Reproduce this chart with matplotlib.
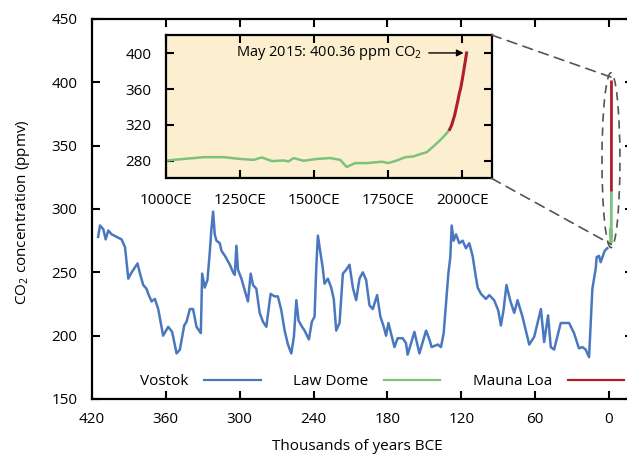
import matplotlib
matplotlib.use("Agg")
import matplotlib.pyplot as plt
from matplotlib.patches import Ellipse, ConnectionPatch

plt.rcParams['font.family'] = ['Open Sans', 'DejaVu Sans']
plt.rcParams['mathtext.fontset'] = 'custom'
plt.rcParams['mathtext.rm'] = 'Open Sans'

# ---------------- data ----------------
vostok_ka = [415, 413.5, 410.8, 408.9, 406.8, 404, 396, 393.2, 390.5, 387.8, 383, 381, 378.4,
             375.7, 374.3, 371.6, 368.9, 366.2, 362.2, 358.1, 354.9, 351.3, 348.6, 345.1, 343.2,
             340.5, 337.9, 335.1, 331.6, 330.5, 328.4, 326.2, 324.3, 323, 321.6, 320.3, 318.9,
             316.2, 314.8, 312, 308, 305.4, 304, 302.7, 301.4, 298.6, 296, 293.3, 291.1, 289.2,
             286.5, 283.8, 281.1, 278.4, 274.9, 271.6, 269, 266.2, 263.5, 260.8, 258.1, 256,
             254, 252.2, 250, 247.3, 243.8, 241.4, 239.2, 237.8, 236.5, 234.3, 232.5, 231.1,
             228.4, 225.7, 223.6, 221.6, 218.9, 216.2, 213.5, 210.8, 208.1, 205.4, 202.7, 200,
             197.3, 194.6, 191.9, 188.4, 185.7, 183, 181.1, 179.2, 174.3, 171.7, 167.6, 164.9,
             163.6, 160.8, 158.1, 154, 148.6, 145.9, 144.1, 139.1, 136.5, 134.3, 132.4, 130.5,
             128.9, 127.8, 126.2, 124.3, 121.6, 118.9, 116.2, 113.5, 110.8, 108.1, 106.7, 104,
             100, 97.3, 93.3, 90, 87.8, 85.7, 83.3, 80.3, 77, 74.3, 70.3, 64.8, 60.8, 55.3,
             52.7, 49.5, 47.3, 44.6, 39.2, 32.4, 28.4, 24.4, 21.6, 18.9, 16.2, 13.5, 10.8, 10,
             8.1, 6.8, 3.5, 1.4]
vostok_ppm = [278, 287, 284, 276, 283, 280, 276, 270, 245, 250, 257, 249, 240,
              237, 233, 227, 229, 221, 200, 207, 203, 186, 189, 208, 211,
              221, 221, 207, 202, 249, 238, 244, 266, 284, 298, 280, 275,
              273, 267, 263, 256, 250, 248, 271, 252, 245, 236, 227, 249, 240,
              237, 218, 211, 207, 233, 231, 231, 220, 204, 193, 186, 199,
              228, 212, 208, 204, 197, 211, 215, 254, 279, 265, 253, 241,
              245, 238, 229, 204, 210, 249, 252, 256, 238, 228, 245, 250,
              244, 224, 221, 232, 215, 207, 200, 210, 191, 198, 198, 194,
              185, 194, 203, 186, 204, 197, 191, 193, 191, 202, 225, 249,
              262, 287, 275, 280, 273, 275, 269, 273, 263, 246, 238, 233,
              229, 232, 228, 220, 208, 220, 240, 228, 218, 228, 215, 193, 199, 221,
              195, 216, 191, 189, 210, 210, 202, 190, 191, 189, 183, 237, 253, 262,
              263, 258, 267, 269]

lawdome_year = [1006, 1028, 1062, 1129, 1196, 1252, 1297, 1325, 1359, 1398, 1415, 1432, 1465,
                1510, 1555, 1589, 1611, 1639, 1679, 1729, 1751, 1780, 1808, 1836, 1858, 1881,
                1903, 1925, 1948, 1958]
lawdome_ppm = [280.3, 281, 282, 284, 284, 282, 281, 283.7, 279.6, 280.3, 279.3, 283, 280,
               282, 283, 281, 273, 277.4, 277.4, 278.9, 277.4, 280.3, 284, 284.8, 287.4, 289.6,
               296, 302.6, 310.7, 315]

maunaloa_year = [1958, 1965, 1970, 1975, 1980, 1985, 1990, 1995, 2000, 2005, 2010, 2015]
maunaloa_ppm = [315.0, 320.0, 325.7, 331.1, 338.8, 346.1, 354.4, 360.9, 369.7, 379.8, 389.9, 400.36]

main_xticks = [420, 360, 300, 240, 180, 120, 60, 0]
main_yticks = [150, 200, 250, 300, 350, 400, 450]
inset_xticks = [1000, 1250, 1500, 1750, 2000]
inset_xticklabels = ['1000CE', '1250CE', '1500CE', '1750CE', '2000CE']
inset_yticks = [280, 320, 360, 400]

c_vostok = '#4a78bf'
c_law = '#7cc27c'
c_mauna = '#b01e2a'

W, H = 627, 457
fig = plt.figure(figsize=(W / 100, H / 100), dpi=100)

def px_rect(l, r, t, b):
    return [l / W, (H - b) / H, (r - l) / W, (b - t) / H]

ax = fig.add_axes(px_rect(92, 633, 19, 399))
ax.plot(vostok_ka, vostok_ppm, color=c_vostok, lw=1.8, label='Vostok')
ax.plot([-y / 1000 for y in lawdome_year], lawdome_ppm, color=c_law, lw=2, label='Law Dome')
ax.plot([-y / 1000 for y in maunaloa_year], maunaloa_ppm, color=c_mauna, lw=2, label='Mauna Loa')
ax.set_xlim(420, -19.5)
ax.set_ylim(150, 450)
ax.set_xticks(main_xticks)
ax.set_yticks(main_yticks)
ax.tick_params(direction='in', top=True, right=True, length=6, width=1.5,
               labelsize=11, pad=9.5)
ax.tick_params(axis='y', pad=10.5)
for s in ax.spines.values():
    s.set_linewidth(1.6)

ell = Ellipse((-1.6, 338.5), width=14.6, height=138, fill=False, ls=(0, (5, 3.5)),
              lw=1.2, ec='#555555')
ax.add_patch(ell)

ax.set_ylabel(r'CO$\mathregular{_2}$ concentration (ppmv)', fontsize=11)
ax.yaxis.set_label_coords(-0.111, 0.492)
ax.set_xlabel('Thousands of years BCE', fontsize=11)
ax.xaxis.set_label_coords(0.491, -0.106)

leg = ax.legend(loc='center', bbox_to_anchor=(382 / W, (H - 381.7) / H),
                bbox_transform=fig.transFigure, ncol=3, frameon=False,
                markerfirst=False, fontsize=11, handlelength=3.7,
                handletextpad=1.05, columnspacing=2.1)
for ln in leg.get_lines():
    ln.set_linewidth(1.6)

# ---------------- inset ----------------
axi = fig.add_axes(px_rect(165.5, 491.5, 35, 178.3))
axi.set_facecolor('#fcefcf')
axi.plot(lawdome_year, lawdome_ppm, color=c_law, lw=1.8)
axi.plot(maunaloa_year, maunaloa_ppm, color=c_mauna, lw=2.2)
axi.set_xlim(1000, 2099)
axi.set_ylim(260.4, 420.4)
axi.set_xticks(inset_xticks)
axi.set_xticklabels(inset_xticklabels)
axi.set_yticks(inset_yticks)
axi.tick_params(direction='in', top=True, right=True, length=6, width=1.5,
                labelsize=11, pad=10.5)
axi.tick_params(axis='y', pad=10)
for s in axi.spines.values():
    s.set_linewidth(1.6)

axi.annotate(r'May 2015: 400.36 ppm CO$\mathregular{_2}$', xy=(2005, 400.36),
             xytext=(1864, 400.36), ha='right', va='center', fontsize=10.5,
             arrowprops=dict(arrowstyle='-|>', color='black', lw=1, shrinkA=3, shrinkB=0,
                             mutation_scale=10))

for ya, yb in [((1, 1), (-2.0, 404)), ((1, 0), (-2.0, 272))]:
    cp = ConnectionPatch(xyA=ya, coordsA=axi.transAxes, xyB=yb, coordsB=ax.transData,
                         ls=(0, (6, 4)), lw=1.2, color='#555555')
    fig.add_artist(cp)

fig.savefig('out.png', dpi=100)
